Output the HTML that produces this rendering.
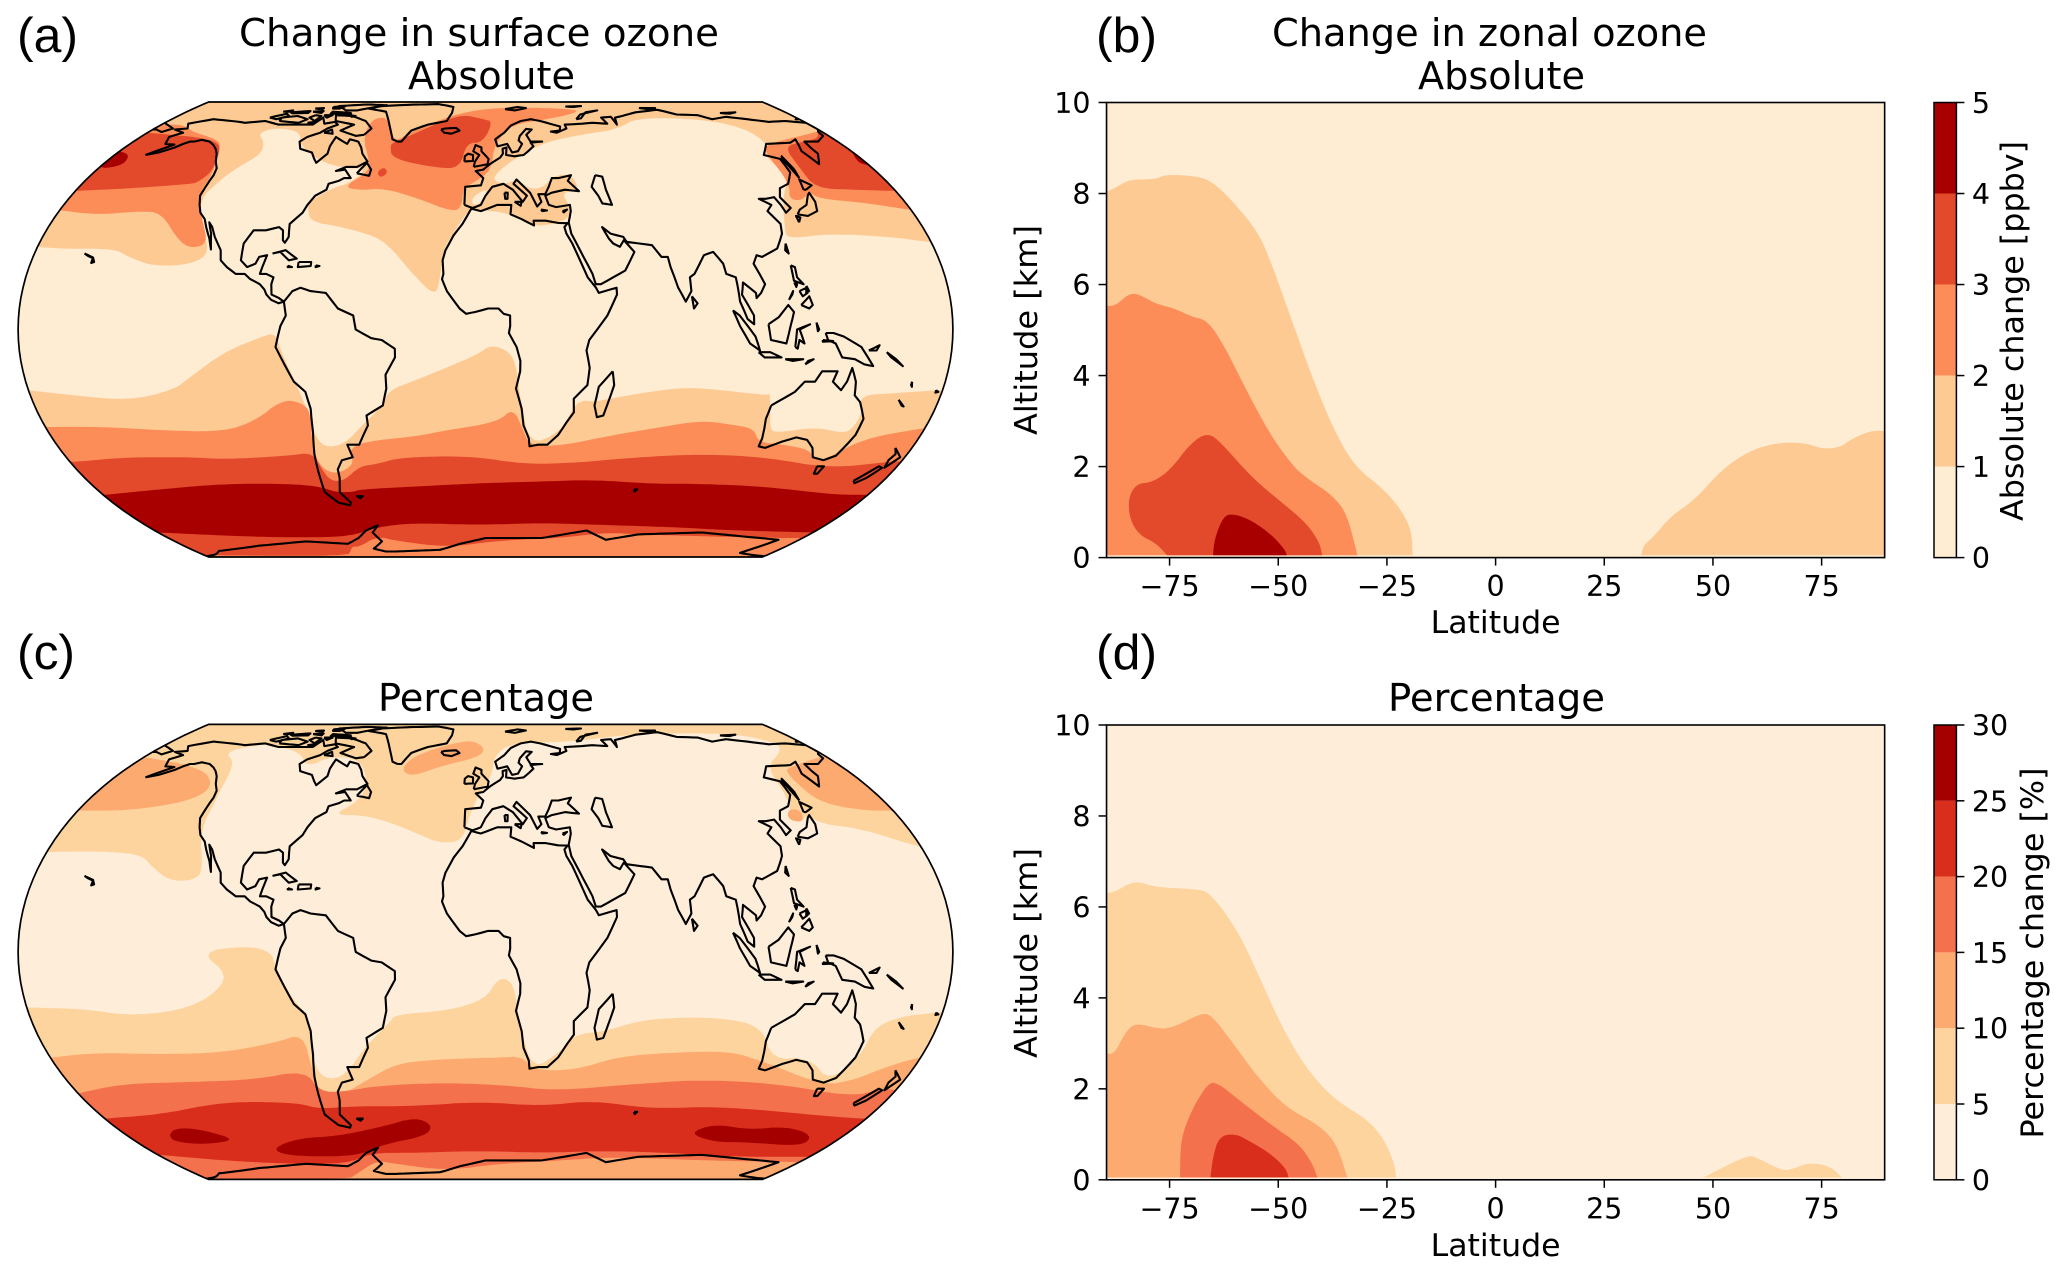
<!DOCTYPE html>
<html lang="en">
<head>
<meta charset="utf-8">
<title>Change in surface and zonal ozone</title>
<style>
html,body{margin:0;padding:0;background:#fff;}
svg{display:block;}
text{font-family:"DejaVu Sans","Liberation Sans",sans-serif;fill:#000;}
.panel-letter{font-family:"Liberation Sans",sans-serif;font-size:49px;}
.title{font-size:38px;}
.axis-label{font-size:31px;}
</style>
</head>
<body>
<svg xmlns="http://www.w3.org/2000/svg" width="2067" height="1275" viewBox="0 0 2067 1275">
<defs>
<clipPath id="clip-map-a"><path id="clip-path-a" d=""/></clipPath>
<clipPath id="clip-map-c"><path id="clip-path-c" d=""/></clipPath>
<clipPath id="clip-zonal-b"><rect x="1107" y="102" width="778" height="455.6"/></clipPath>
<clipPath id="clip-zonal-d"><rect x="1107" y="725" width="778" height="454.8"/></clipPath>
</defs>
<rect width="2067" height="1275" fill="#fff"/>

<text class="panel-letter" x="17" y="52" textLength="61" lengthAdjust="spacingAndGlyphs">(a)</text>
<text class="panel-letter" x="1096" y="52" textLength="61" lengthAdjust="spacingAndGlyphs">(b)</text>
<text class="panel-letter" x="17" y="669" textLength="58" lengthAdjust="spacingAndGlyphs">(c)</text>
<text class="panel-letter" x="1096" y="669" textLength="61" lengthAdjust="spacingAndGlyphs">(d)</text>

<text class="title" x="239" y="46" textLength="480" lengthAdjust="spacingAndGlyphs">Change in surface ozone</text>
<text class="title" x="408" y="89" textLength="167" lengthAdjust="spacingAndGlyphs">Absolute</text>
<text class="title" x="1272" y="46" textLength="435" lengthAdjust="spacingAndGlyphs">Change in zonal ozone</text>
<text class="title" x="1418" y="89" textLength="167" lengthAdjust="spacingAndGlyphs">Absolute</text>
<text class="title" x="378" y="711" textLength="216" lengthAdjust="spacingAndGlyphs">Percentage</text>
<text class="title" x="1388" y="711" textLength="217" lengthAdjust="spacingAndGlyphs">Percentage</text>

<g id="map-a" clip-path="url(#clip-map-a)"></g>
<g id="map-c" clip-path="url(#clip-map-c)"></g>
<g id="map-frames"></g>

<g id="zonal-b"></g>
<g id="zonal-d"></g>

<text class="axis-label" x="1495.6" y="633" text-anchor="middle" textLength="130" lengthAdjust="spacingAndGlyphs">Latitude</text>
<text class="axis-label" x="1495.6" y="1256" text-anchor="middle" textLength="130" lengthAdjust="spacingAndGlyphs">Latitude</text>
<text class="axis-label" transform="translate(1037,330) rotate(-90)" text-anchor="middle" textLength="210" lengthAdjust="spacingAndGlyphs">Altitude [km]</text>
<text class="axis-label" transform="translate(1037,953) rotate(-90)" text-anchor="middle" textLength="210" lengthAdjust="spacingAndGlyphs">Altitude [km]</text>
<text class="axis-label" transform="translate(2023,331) rotate(-90)" text-anchor="middle" textLength="380" lengthAdjust="spacingAndGlyphs">Absolute change [ppbv]</text>
<text class="axis-label" transform="translate(2043,953) rotate(-90)" text-anchor="middle" textLength="371" lengthAdjust="spacingAndGlyphs">Percentage change [%]</text>
</svg>

<script>
// ---------- colour levels ----------
const absColors = ['#feecd3', '#fdca94', '#fc8d59', '#e34a2c', '#a80000'];
const pctColors = ['#feedd8', '#fdd49e', '#fdaa71', '#f4714e', '#d92e1b', '#a40000'];
const absColorbarTicks = [0, 1, 2, 3, 4, 5];
const pctColorbarTicks = [0, 5, 10, 15, 20, 25, 30];
const latitudeTicks = [-75, -50, -25, 0, 25, 50, 75];
const altitudeTicks = [0, 2, 4, 6, 8, 10];

// ---------- coastlines [lon, lat] ----------
const coastNorthAmerica = [[-165,54.5],[-160,55.5],[-155,57.5],[-153,59],[-151,60],[-149,60],[-146,60.7],[-141,60],[-137,58.5],[-134,57],[-131,55],[-128,52],[-125,49.5],[-124,47],[-124,43],[-124,40],[-122,37],[-120,34.5],[-117,32.5],[-115,30],[-112,26.5],[-110,23.2],[-112,28],[-114.5,31.5],[-112.5,30],[-110,27],[-106,23],[-105,20],[-102,18],[-98,16],[-94.5,16],[-92,14.5],[-88,13],[-86,11.5],[-85,10],[-83,8.5],[-80,7.5],[-78,8],[-80,9],[-83,10],[-83.5,13],[-83,15],[-86,16],[-88.5,16],[-88,18],[-87,21.5],[-90,21],[-91,19],[-94,18],[-97,20],[-97.5,25],[-95,29],[-90,29],[-85,30],[-83,29],[-82,26],[-81,25.2],[-80,27],[-81,31],[-77,34.5],[-76,37],[-74,40],[-70,42],[-70,44],[-66,45],[-64,46],[-61,46],[-65,49],[-69,48.5],[-65,50],[-60,50],[-56,52],[-60,55],[-62,57.5],[-65,60],[-70,61],[-70,59],[-78,62],[-78,58],[-77,55],[-80,51.5],[-82,53],[-85,55.5],[-92,57],[-95,60],[-93,62],[-88,64],[-86,66],[-82,68],[-85,69.5],[-90,68.5],[-94,72],[-96,68],[-108,68],[-115,68],[-125,70],[-135,69],[-141,69.7],[-150,70.5],[-156,71],[-166,68.5],[-162,66],[-168,65.5],[-161,64],[-165,62],[-162,59],[-157,58.7],[-165,54.5]];
const coastSouthAmerica = [[-78,8],[-77,4],[-79,1],[-80,-2],[-81,-5],[-78,-10],[-75,-15],[-71,-18],[-70,-23],[-71,-30],[-73,-37],[-74,-43],[-75,-50],[-71,-54],[-66,-55],[-65,-54],[-68,-50],[-65.5,-45],[-65,-42],[-62,-39],[-57,-38],[-58,-34],[-53,-34],[-48,-28],[-48,-25],[-41,-22],[-39,-17],[-39,-13],[-35,-8],[-35,-5.5],[-40,-3],[-44,-2.5],[-50,0],[-51,4],[-57,6],[-62,10.5],[-68,11],[-72,12],[-75,11],[-78,8]];
const coastAfrica = [[-6,35.8],[-9.5,31],[-13,27.5],[-16,23],[-17,20],[-16.5,16],[-17,14.5],[-15,11],[-13,9],[-10,6],[-7.5,4.5],[-4,5],[1,6],[5,6],[7,4.5],[9.5,4],[9.5,1],[9,-1],[12,-5],[13.5,-9],[13.5,-12],[12,-17],[14.5,-23],[15.5,-28],[18,-32],[18.5,-34.5],[22,-34],[26,-34],[30,-31],[33,-27],[35.5,-24],[35,-20],[40,-16],[40.5,-11],[39,-6],[40,-3],[43,0],[47,4],[51,10],[51,12],[44,10.5],[43,12],[40,15],[37,21],[35,25],[33,28],[32.5,30],[34,31.2],[30,31.3],[25,32],[20,32],[20,30.5],[15,32.5],[10.5,34],[11,37],[5,37],[-2,35],[-6,35.8]];
const coastEurasia = [[-9,37],[-9,43],[-2,43.5],[-1,46],[-4.5,48.5],[-1,49],[2,51],[4,52],[7,53.5],[8.5,55],[8.5,57],[10.5,57.5],[10,54.5],[14,54],[18.5,54.5],[21,56],[24,58],[23,59.5],[29,60],[23,60],[21.5,63],[25,65.5],[22,65.8],[18,62.5],[17,60.5],[18.5,59],[16,56],[13,55.5],[11,59],[6,58],[5,61],[10,64],[14,67.5],[20,70],[26,71],[31,70],[41,67],[40,65],[35,64.5],[38,64],[44,66],[44,68],[54,68.5],[60,69],[68,68.5],[67,72],[73,72.5],[73,68],[75,72],[80,73],[90,75.5],[105,77.5],[113,74],[125,73.5],[130,71],[140,72.5],[150,71],[160,69.5],[170,70],[180,69],[180,65.5],[178,64.5],[177,62.5],[170,60],[163,60],[162,57],[162,55],[157,51],[155.5,56],[160,61],[155,59.5],[142,59],[135,54.5],[141,53],[140,48],[135,44],[130,42.5],[127.5,39.5],[129.5,36],[126.5,34.5],[126,37],[125,39.5],[121,39],[118,39],[122,37],[119,35],[122,31],[121,28],[117,23.5],[110,21],[108,21.5],[106,19],[109,13],[107,10.5],[105,9],[105,10.5],[100.5,13.5],[99.5,10],[103.5,4],[103.5,1.5],[101,3],[98.5,8],[98,15],[94.5,16],[94,19],[91,22.5],[87,21.5],[82,16],[80,15],[80,11],[77.5,8],[75,12],[73,18],[72.5,21],[70,21],[67,24.5],[62,25],[57,25.5],[56,27],[51,28],[48,30],[50,26.5],[51.5,25],[54,24],[56,26],[59.5,22.5],[55,17],[45,13],[43,13],[42,16],[39,21],[35,28],[34.5,31.5],[36,35],[36,37],[30,36.3],[27,37],[26,40],[29,41],[35,42],[41,41.5],[37,45],[39,47],[33,46],[30,46],[28,43],[26,40.5],[23,40.5],[24,38],[22,36.5],[19.5,41],[14,45.5],[12.5,44],[18,40],[16,38],[12,42],[8,44],[3,43],[0,40],[-2,37],[-5.5,36],[-9,37]];
const coastChukotkaEast = [[-180,68.9],[-175,67.5],[-170,66],[-173,64.3],[-178,65.5],[-180,65.5]];
const coastAustralia = [[114,-22],[113.5,-26],[115,-32],[115,-34.5],[118,-35],[124,-33],[129,-31.7],[134,-32.5],[138,-35],[140.5,-38],[146,-39],[150,-37.5],[153,-31],[153,-26],[149,-21],[146,-19],[145,-15],[142.5,-11],[141.5,-15],[140,-17.5],[136,-15],[137,-12],[131,-12],[129,-15],[125,-15],[122,-18],[118,-20],[114,-22]];
const coastAntarctica = [[-180,-86],[-172,-83],[-165,-79],[-135,-74.8],[-104,-72],[-81,-73.5],[-72,-70],[-65,-66],[-57,-63.5],[-62,-67],[-60,-72],[-68,-77],[-62,-79.5],[-56,-79.5],[-28,-78],[-15,-73.5],[0,-70],[32,-70],[55,-66],[69,-71],[85,-68],[119,-67],[168,-71],[162,-78],[160,-81],[172,-84],[180,-86]];
const coastIslands = [
  [[50,47],[53,46.5],[53,42],[54,37],[50,37.5],[49,40],[47,43],[50,47]],
  [[-5.5,50],[1,51],[1.5,53],[-2,56],[-2,57.5],[-5,58.5],[-6,56],[-3,54.5],[-5,52],[-5.5,50]],
  [[-10,52],[-6,52.2],[-6,54.5],[-8.5,55],[-10,54],[-10,52]],
  [[-24,65.5],[-22,64],[-18,63.5],[-14,65],[-16,66.3],[-22,66],[-24,65.5]],
  [[-45,60],[-43,60],[-40,65],[-32,68],[-22,70],[-20,75],[-20,80],[-30,83.5],[-50,82.5],[-65,81],[-72,78.5],[-60,76],[-55,70],[-51,65],[-48,61],[-45,60]],
  [[-64,63],[-68,62.5],[-78,65],[-73,68],[-85,70],[-88,73.5],[-78,73],[-68,70],[-62,66],[-64,63]],
  [[-117,70],[-105,69],[-102,71],[-110,73],[-118,72],[-117,70]],
  [[-62,82],[-75,83],[-92,81],[-85,77],[-78,77],[-72,79],[-62,82]],
  [[-125,72],[-118,74.5],[-115,73],[-120,71],[-125,72]],
  [[-80,75],[-92,76],[-92,74.5],[-80,74.5],[-80,75]],
  [[-117,75.5],[-106,76.5],[-106,75],[-115,74.8],[-117,75.5]],
  [[-100,73.5],[-96,73],[-97,70],[-102,72],[-100,73.5]],
  [[-86,64],[-81,63.5],[-83,65.5],[-86,64]],
  [[-95,73.5],[-90,73.5],[-92,72],[-95,73.5]],
  [[-104,76],[-98,76.5],[-98,75],[-104,76]],
  [[-95,80],[-88,81],[-90,78.5],[-94,78.5],[-95,80]],
  [[-105,78.5],[-100,79],[-100,78],[-105,78.5]],
  [[-122,76],[-117,77],[-116,76],[-122,76]],
  [[-100,69],[-96,69.5],[-96,68.5],[-100,69]],
  [[-80,73.5],[-76,73],[-78,72.5],[-80,73.5]],
  [[-59,47.7],[-53,46.8],[-53,49],[-56,51.5],[-59,47.7]],
  [[-85,22],[-80,23],[-75,20.5],[-78,20],[-82,22.5],[-85,22]],
  [[-74,19.5],[-69,19.5],[-69,18.3],[-74,18],[-74,19.5]],
  [[-67,18.5],[-65.5,18.3],[-67,18],[-67,18.5]],
  [[-78,18.4],[-76.3,18],[-78,18],[-78,18.4]],
  [[-160,22],[-158,21.4],[-156,20.8],[-155,19.5],[-156,19.2],[-156,20.6],[-158,21.2],[-160,22]],
  [[49.5,-12],[50.5,-16],[47.5,-25],[45,-25.5],[43.5,-22],[44.5,-16.5],[49.5,-12]],
  [[80,9.5],[82,7.5],[80.5,6],[80,9.5]],
  [[131,34],[135,33.5],[140,35],[141.5,38],[141.5,41],[140,40],[137,37],[133,35.5],[131,34]],
  [[140,42],[141.5,45.5],[145,43.5],[141,42],[140,42]],
  [[130,31.5],[131.5,33],[130,33.5],[130,31.5]],
  [[142,46],[143,49],[143,54],[142,53],[142,46]],
  [[121,25],[120,23],[121,22],[121,25]],
  [[120.5,18.5],[122,18],[122,15],[124,13],[120.5,14],[120.5,18.5]],
  [[122,7],[125.5,9.5],[126.5,7],[125,6],[122,7]],
  [[117.5,8.5],[119.5,11],[119,10],[117.5,8.5]],
  [[122,11],[125,12],[125,10.5],[123,9.5],[122,11]],
  [[125,12.5],[125.7,11],[124.5,10.5],[125,12.5]],
  [[120.5,13.5],[121.5,13],[121,12.2],[120.5,13.5]],
  [[109,1.5],[113,3.5],[117,7],[119,5],[117.5,1],[116,-4],[110,-3],[109,1.5]],
  [[95.5,5.5],[98,4],[104,-2],[106,-6],[102,-4],[98,1],[95.5,5.5]],
  [[105.5,-6.5],[110,-6.5],[114.5,-8],[108,-8],[105.5,-6.5]],
  [[119.5,-5],[120,0],[125,1.5],[121,0],[123,-4],[121,-3],[120.5,-5.5],[119.5,-5]],
  [[127.5,2],[128.5,0],[128,-0.5],[127.5,2]],
  [[130,-3],[134,-3.3],[130,-3.5],[130,-3]],
  [[116,-8.5],[119,-8.5],[123,-8.5],[119,-9],[116,-8.5]],
  [[124,-10],[127,-8.5],[125,-9],[124,-10]],
  [[131,-1],[134,-1],[138,-2],[145,-5],[148,-8],[150.5,-10.5],[147,-10],[143,-8.5],[138,-8],[135,-4],[132,-3],[131,-1]],
  [[148,-6],[152,-4.5],[151,-6],[148,-6]],
  [[155,-6.5],[157,-8],[160,-9.5],[162,-10.5],[159,-8.5],[155,-6.5]],
  [[145,-41],[148,-41],[147.5,-43.5],[146,-43.5],[145,-41]],
  [[166.5,-46],[172,-41],[174,-41.5],[171,-45],[168,-46.8],[166.5,-46]],
  [[173,-35],[178,-38],[175,-41.5],[174,-39],[175,-37],[173,-35]],
  [[164,-20.3],[167,-22.3],[166,-22],[164,-20.3]],
  [[167,-15],[167.5,-16.5],[167,-16],[167,-15]],
  [[177.5,-17.5],[178.6,-18],[177.5,-18.2],[177.5,-17.5]],
  [[68.8,-49],[70.3,-49],[69.5,-49.8],[68.8,-49]],
  [[-61,-51.5],[-58,-51.5],[-59.5,-52.3],[-61,-51.5]],
  [[12,78],[20,80],[25,79],[18,77],[12,78]],
  [[52,71],[56,74],[68,77],[60,75.5],[55,71.5],[52,71]],
  [[50,80.5],[60,81],[55,80],[50,80.5]],
  [[95,79],[105,79],[100,78],[95,79]],
  [[140,75],[150,75.5],[145,74.5],[140,75]],
  [[178,71.3],[180,71],[178,70.9],[178,71.3]],
  [[8.3,41],[9.7,41],[9.5,39],[8.5,39],[8.3,41]],
  [[12.5,38],[15.5,38],[15,36.7],[12.5,38]],
  [[23.5,35.5],[26,35.2],[24,35],[23.5,35.5]],
  [[32.5,35],[34.5,35.5],[33,34.6],[32.5,35]]
];

// ---------- surface ozone, absolute change: filled regions [lon, lat] ----------
const surfaceAbsLevel1 = [
  [[-180,-17.5],[-166.5,-18.7],[-142,-20.6],[-123,-17.5],[-115,-13.6],[-101,-6.5],[-86,-2],[-81,-1],[-79,-6],[-75,-14],[-71,-24],[-71,-30],[-68,-35],[-59,-33.8],[-50,-27.8],[-41,-22],[-38,-17.5],[-27.7,-14.7],[-15,-10.9],[-2.7,-7],[2.2,-4.3],[9.6,-6.5],[12,-10.9],[13.7,-19.8],[18.5,-34.3],[31,-30],[35.4,-22],[39,-20.4],[42.8,-21],[50.4,-19.8],[72.6,-17],[85,-16.8],[111,-19],[112.3,-18.4],[113.5,-22],[116.5,-29],[120,-30.3],[135,-28.5],[148,-30.5],[150.6,-28.5],[151.4,-24],[148,-19],[161,-18.4],[178,-17.5],[180,-17.5],[180,-90],[-180,-90]],
  [[-180,24],[-169,23.4],[-148.6,23.4],[-142,21],[-131,18.2],[-116,18.8],[-110,22.3],[-117,30.3],[-123,39],[-120,44.2],[-116,49.5],[-109,54.7],[-113,60],[-120.6,63.6],[-115,66.5],[-99,64.5],[-93.4,58.5],[-79,52.2],[-65.4,49.5],[-55,49.5],[-60,44.5],[-67.6,42.5],[-76,38],[-75,35.4],[-72.6,31.7],[-58.7,30],[-44,27],[-37,23],[-29.8,17],[-19.6,9.4],[-17.8,14.2],[-17,23],[-13.2,28],[-7.8,34.7],[-5.3,35.5],[10,34.5],[19,30.2],[29,31],[35,33],[36,36.5],[33,41],[41.5,42],[39,47.4],[30.6,46.7],[26,43],[20,42],[14,45.5],[9,44],[5,44.5],[3.4,46.5],[11.6,52],[29,59.5],[50,63],[71,65.5],[88,72],[124,71],[140.6,66.5],[143,59],[135,55.2],[137,46],[128,39],[122.5,29],[123,26.4],[140,28],[165,27],[177.6,25.6],[180,25.5],[180,90],[-180,90]],
  [[-5.3,36.5],[-6,39.3],[-1.7,41.5],[0.7,42],[0.2,38.7]]
];
const surfaceAbsLevel2 = [
  [[-180,-28.5],[-157,-28.4],[-134,-29.5],[-108,-30],[-93,-26.5],[-81,-20.4],[-73.6,-21],[-70,-24],[-73,-35],[-72,-41.7],[-66,-43.7],[-57,-40.3],[-58,-35.7],[-50.7,-33],[-29,-31.4],[-16,-29.5],[5,-27],[11,-22.7],[15.5,-29.5],[18.5,-34.3],[32,-34.3],[50,-31.4],[68,-29],[87.5,-26.5],[101,-27.8],[110,-29],[114,-33.2],[125,-34],[137,-35.5],[142,-39],[147,-38.5],[156.7,-32.2],[178,-29],[180,-29],[180,-90],[-180,-90]],
  [[-180,35.3],[-163,33.8],[-146,35],[-136,34.4],[-124,25.8],[-118,23.5],[-112,25],[-117,31.5],[-125,40],[-124.6,48],[-133,58.5],[-139,61],[-157,64.5],[-168,68],[-180,68]],
  [[-57.6,72.5],[-65,71],[-63.7,62],[-55,52],[-54,48],[-63,43],[-55,41.8],[-45,42.5],[-29.8,39.3],[-13.7,34.7],[-10,36.5],[-9.9,42.5],[-1.7,46],[2.7,49.5],[4.5,58.5],[13.9,68],[36,71],[54,75],[56,78],[15.5,80],[-13.5,76],[-41.5,63.5],[-45.4,60],[-51,64.5]],
  [[180,65],[172.5,63.6],[141,58.8],[136.5,54.7],[135.4,43.7],[131,39],[136,38.3],[141.5,41.3],[144.4,39],[161.4,37.8],[178,35.6],[180,35.5]]
];
const surfaceAbsLevel3 = [
  [[-180,-39.5],[-175.5,-39.4],[-153.6,-38],[-126,-38],[-113,-38.7],[-85,-37.6],[-73.5,-36.4],[-72,-42],[-70,-46],[-64,-46],[-55,-41],[-47.5,-40.3],[-36,-38],[-6,-37.6],[16.4,-40.3],[38.5,-39.9],[65.5,-38],[92.5,-37],[120,-38],[151,-41.7],[176,-39.4],[180,-39.4],[180,-70],[166,-70],[121.5,-69],[85,-68],[66,-67],[43,-70],[7,-71.5],[-23,-76],[-52,-71.5],[-61,-69],[-77,-76],[-80,-75],[-90,-86],[-180,-84]],
  [[-47.8,58],[-44.5,53],[-22.6,49.6],[-11.8,49.6],[-9.6,59.5],[-1.2,59.5],[4.2,69.7],[-1.4,71],[-13.3,74],[-27,68.5],[-41,62],[-47,59.5]],
  [[-50,48],[-47.4,50],[-44.8,48],[-47.4,46]],
  [[-180,41.6],[-157.5,42.4],[-131,44],[-129,44.5],[-126,48],[-128.6,53.5],[-134,59],[-146,61.5],[-165,63],[-180,64]],
  [[149,57.8],[146,49.5],[145.7,42.5],[162,42],[179,41.6],[180,41.6],[180,66],[173,61.5],[162.7,60]]
];
const surfaceAbsLevel4 = [
  [[-180,-51],[-178.5,-51],[-151,-49],[-119,-47],[-90,-47],[-76,-48],[-70,-50],[-62,-50],[-58,-49],[-32.5,-48],[-3,-46.8],[26,-46.2],[48.7,-45.6],[75,-47],[98,-47],[128.6,-48],[164.4,-51],[180,-51],[180,-67],[135,-66],[98.6,-64.3],[63.5,-63.4],[29.5,-62.4],[-3.7,-63.4],[-37,-62.4],[-58,-64.3],[-75.6,-69],[-102,-69.8],[-140,-69],[-179,-67],[-180,-67]],
  [[-180,50],[-180,56],[-173,54.7],[-170,51],[-176,49.5]],
  [[180,56],[176,51.5],[180,50.5]]
];

// ---------- surface ozone, percentage change: filled regions [lon, lat] ----------
const surfacePctLevel1 = [
  [[-180,-16],[-158,-16.4],[-141,-18.4],[-121,-17],[-107,-13],[-99,-6.5],[-110,0],[-92,1.8],[-82.5,0],[-81,-4.3],[-75,-14],[-69.5,-18.7],[-72,-32.5],[-69,-38],[-60,-37],[-48,-27],[-38,-20.4],[-35.5,-18],[-15,-17],[0,-13.6],[4.7,-7.6],[9.6,-8],[12,-13],[13.7,-22],[20,-35],[31,-29],[35.7,-24],[48,-23],[60.5,-20],[73,-19],[93,-19],[110,-21.5],[118.5,-31.6],[134,-31],[148,-38.8],[154.7,-30],[155,-22],[163.5,-18.7],[177,-17.5],[180,-17.4],[180,-90],[-180,-90]],
  [[-180,29.2],[-160,29.5],[-141,28.6],[-134,24.6],[-125.6,20.6],[-116.6,20.6],[-113,23.4],[-121,36.6],[-121.7,46],[-127.5,60],[-141,65.5],[-129,69],[-123,69.6],[-100,65.5],[-90,58.5],[-81.7,63.6],[-65,62],[-55.5,52],[-57.7,45.5],[-67,41],[-53,41],[-38.6,38],[-27,34.4],[-19,32],[-9.6,32.6],[-7,41],[-3,48],[3,55],[4.7,63.6],[14,70],[51,71],[92.5,76.5],[150.5,76.5],[166,70],[159.6,65.5],[141,58.5],[137,46],[133.6,41],[131.6,39],[137,39.2],[140,41],[145,38],[159.6,36.6],[176.6,31.5],[180,31],[180,90],[-180,90]]
];
const surfacePctLevel2 = [
  [[-180,-31],[-160,-29.5],[-134,-30],[-108,-29.5],[-85.5,-26.5],[-73,-23.6],[-73,-35],[-72.7,-43.3],[-62,-42.5],[-49.4,-37.6],[-37.4,-33],[-21.4,-31.6],[5,-31],[15.5,-30.7],[20,-35],[37.5,-35],[55,-30.7],[75.7,-29.5],[99,-29],[113,-31.6],[146.5,-40],[158.6,-38],[168,-34],[176.6,-31.6],[180,-31],[180,-90],[-180,-90]],
  [[-180,42.5],[-157.5,42.5],[-135,45.5],[-128,50],[-135.8,55.8],[-149,59],[-162,61],[-180,63]],
  [[180,42.5],[168,42.5],[154,44.5],[148.6,48],[148,56.8],[154.7,59],[176,63],[180,63.5]],
  [[131,39.5],[137,38.5],[139.5,42.8],[134,43]],
  [[-42.4,57.8],[-36,54.7],[-23,59],[-3.7,63],[0,67.3],[-7.8,72],[-22,69],[-37.6,63.6]]
];
const surfacePctLevel3 = [
  [[-180,-42.6],[-157.6,-39.4],[-127,-38.8],[-99,-38],[-76,-35],[-73,-42],[-62,-42],[-47,-40],[-17,-39],[11,-40],[30.5,-41.7],[66,-39.4],[93,-38],[126.7,-39.4],[162.5,-43.7],[174,-41],[180,-41.5],[180,-71],[122.7,-70],[70.6,-68],[43,-70],[7,-72],[-23.6,-76.5],[-52,-72],[-62,-70],[-80,-79],[-90,-87],[-180,-85]]
];
const surfacePctLevel4 = [
  [[-180,-51.5],[-152,-50],[-122,-46],[-104,-45.4],[-84,-46],[-76.5,-48],[-60,-47],[-32,-47],[-3,-45.4],[26,-47],[48,-45],[76,-48],[107,-47],[161.7,-50.7],[178,-51.5],[180,-51.5],[180,-68],[138,-68],[100,-66],[65,-65],[31,-66],[-4,-65],[-38.5,-66],[-63,-66],[-80,-72],[-115,-72],[-149,-70],[-179,-67],[-180,-67]]
];
const surfacePctLevel5 = [
  [[-159,-58],[-150.5,-55],[-139,-55.8],[-127,-60],[-146,-62],[-160,-61]],
  [[-112,-63.4],[-94.6,-59.3],[-74.4,-58.4],[-50,-54.6],[-33,-51],[-25.5,-54],[-30,-58.4],[-53.5,-62],[-70.5,-67.5],[-99,-67.9],[-112,-66.5]],
  [[101,-57.3],[110,-53.5],[129,-55.8],[146,-54.5],[164,-58],[166.5,-62.9],[135,-61],[118.5,-61]]
];

// ---------- zonal ozone, absolute change: filled regions [latitude, altitude km] ----------
const zonalAbsLevel1 = [
  [[-89.5,0.05],[-89.5,8.04],[-87.4,8.13],[-84.2,8.31],[-78.3,8.31],[-75.9,8.42],[-68.6,8.38],[-65.4,8.27],[-60.7,7.86],[-54.5,7.14],[-51.4,6.42],[-46.7,5.17],[-42,3.91],[-37.3,2.83],[-32.6,2.02],[-25.5,1.48],[-21.6,1.03],[-19.3,0.58],[-19.1,0.05]],
  [[33.5,0.05],[34,0.27],[36.3,0.45],[40.2,0.9],[45.7,1.26],[52,1.93],[58.2,2.34],[64.5,2.52],[70.8,2.53],[75.5,2.38],[79.4,2.43],[81.7,2.6],[86.4,2.79],[89.5,2.78],[89.5,0.05]]
];
const zonalAbsLevel2 = [
  [[-89.5,0.05],[-89.5,5.53],[-87.4,5.54],[-84.2,5.81],[-81.9,5.78],[-78,5.57],[-74,5.48],[-70.1,5.3],[-66.2,5.21],[-62.3,4.63],[-57.6,3.73],[-52.1,2.74],[-46.7,2.02],[-43.5,1.75],[-37.3,1.35],[-34.1,0.94],[-31.8,0.05]]
];
const zonalAbsLevel3 = [
  [[-75.6,0.05],[-78,0.31],[-81.9,0.49],[-84.2,0.85],[-84.5,1.3],[-82.7,1.62],[-78.8,1.66],[-74.8,1.93],[-70.1,2.52],[-66.2,2.75],[-63.1,2.52],[-56,1.75],[-49.8,1.26],[-43.5,0.76],[-40.4,0.31],[-39.9,0.05]]
];
const zonalAbsLevel4 = [
  [[-65,0.05],[-64.7,0.4],[-62.6,0.92],[-60,0.96],[-56,0.81],[-51.4,0.49],[-48.5,0.18],[-48,0.05]]
];

// ---------- zonal ozone, percentage change: filled regions [latitude, altitude km] ----------
const zonalPctLevel1 = [
  [[-89.5,0.05],[-89.5,6.3],[-87.4,6.34],[-84.2,6.52],[-81.9,6.55],[-78,6.43],[-68.6,6.39],[-66.2,6.33],[-62.3,5.89],[-58.4,5.3],[-54.5,4.49],[-49.8,3.49],[-45.1,2.68],[-40.4,2.09],[-35.7,1.68],[-29.4,1.32],[-25.5,0.87],[-23.2,0.33],[-22.9,0.05]],
  [[47.8,0.05],[58.2,0.56],[60.6,0.46],[66,0.2],[68.4,0.24],[72.3,0.38],[77,0.3],[79.7,0.05]]
];
const zonalPctLevel2 = [
  [[-89.5,0.05],[-89.5,2.77],[-87.7,2.77],[-85,3.27],[-82.7,3.45],[-77.2,3.31],[-74,3.36],[-67.8,3.66],[-65.4,3.63],[-60.7,3.04],[-54.5,2.23],[-48.2,1.59],[-40.4,1.19],[-36.5,0.78],[-34.1,0.05]]
];
const zonalPctLevel3 = [
  [[-72.6,0.05],[-72.5,0.87],[-70.1,1.5],[-66.2,2.13],[-63.9,2.13],[-59.2,1.77],[-51.4,1.19],[-45.1,0.78],[-42,0.33],[-41,0.05]]
];
const zonalPctLevel4 = [
  [[-65.6,0.05],[-65,0.51],[-63.6,0.95],[-60,1.02],[-56,0.82],[-51.4,0.55],[-48.2,0.24],[-47.6,0.05]]
];

// ---------- Equal Earth map projection ----------
const SVG_NS = 'http://www.w3.org/2000/svg';
const EE = { A1: 1.340264, A2: -0.081106, A3: 0.000893, A4: 0.003796 };
const MAP_SCALE = 172.7;
function equalEarth(lon, lat, cx, cy) {
  const lam = lon * Math.PI / 180;
  const th = Math.asin(Math.sqrt(3) / 2 * Math.sin(lat * Math.PI / 180));
  const t2 = th * th, t6 = t2 * t2 * t2, t8 = t6 * t2;
  const denom = 9 * EE.A4 * t8 + 7 * EE.A3 * t6 + 3 * EE.A2 * t2 + EE.A1;
  const x = 2 * Math.sqrt(3) * lam * Math.cos(th) / (3 * denom);
  const y = th * (EE.A4 * t8 + EE.A3 * t6 + EE.A2 * t2 + EE.A1);
  return [cx + MAP_SCALE * x, cy - MAP_SCALE * y];
}
function geoPath(points, cx, cy, closed) {
  let d = '';
  for (let i = 0; i < points.length; i++) {
    const p = points[i];
    if (i === 0) {
      const s = equalEarth(p[0], p[1], cx, cy);
      d += 'M' + s[0].toFixed(1) + ' ' + s[1].toFixed(1);
      continue;
    }
    const q = points[i - 1];
    const n = Math.max(1, Math.ceil(Math.max(Math.abs(p[0] - q[0]), Math.abs(p[1] - q[1])) / 3));
    for (let k = 1; k <= n; k++) {
      const lon = q[0] + (p[0] - q[0]) * k / n;
      const lat = q[1] + (p[1] - q[1]) * k / n;
      const s = equalEarth(lon, lat, cx, cy);
      d += 'L' + s[0].toFixed(1) + ' ' + s[1].toFixed(1);
    }
  }
  if (closed) {
    const a = points[points.length - 1], b = points[0];
    const n = Math.max(1, Math.ceil(Math.max(Math.abs(a[0] - b[0]), Math.abs(a[1] - b[1])) / 3));
    for (let k = 1; k < n; k++) {
      const s = equalEarth(a[0] + (b[0] - a[0]) * k / n, a[1] + (b[1] - a[1]) * k / n, cx, cy);
      d += 'L' + s[0].toFixed(1) + ' ' + s[1].toFixed(1);
    }
    d += 'Z';
  }
  return d;
}

// Corner-cutting smoother for contour outlines; vertices on plot boundaries stay put.
function smoothRing(points, isFixed, passes) {
  let pts = points;
  for (let n = 0; n < passes; n++) {
    const out = [];
    for (let i = 0; i < pts.length; i++) {
      const p = pts[i], q = pts[(i + 1) % pts.length];
      if (isFixed(p)) {
        out.push(p);
      } else {
        out.push([0.75 * p[0] + 0.25 * q[0], 0.75 * p[1] + 0.25 * q[1]]);
      }
      if (!isFixed(q)) {
        out.push([0.25 * p[0] + 0.75 * q[0], 0.25 * p[1] + 0.75 * q[1]]);
      }
    }
    pts = out;
  }
  return pts;
}
function mapFixed(p) { return Math.abs(p[0]) >= 180 || Math.abs(p[1]) >= 90; }
function zonalFixed(p) { return p[1] <= 0.05 || Math.abs(p[0]) >= 89.5; }

const OUTLINE = [[-180, -90], [180, -90], [180, 90], [-180, 90]];

function drawMap(groupId, clipId, cx, cy, colors, levels, label) {
  const g = document.getElementById(groupId);
  const outline = geoPath(OUTLINE, cx, cy, true);
  document.getElementById(clipId).setAttribute('d', outline);

  const base = document.createElementNS(SVG_NS, 'path');
  base.setAttribute('d', outline);
  base.setAttribute('fill', colors[0]);
  
  
  g.appendChild(base);

  levels.forEach(function (regions, i) {
    const band = document.createElementNS(SVG_NS, 'path');
    band.setAttribute('d', regions.map(function (r) {
      return geoPath(smoothRing(r, mapFixed, 2), cx, cy, true);
    }).join(''));
    band.setAttribute('fill', colors[i + 1]);
    band.setAttribute('fill-rule', 'evenodd');
    
    
    g.appendChild(band);
  });

  const closedCoasts = [coastNorthAmerica, coastSouthAmerica, coastAfrica, coastEurasia, coastAustralia].concat(coastIslands);
  const coast = document.createElementNS(SVG_NS, 'path');
  coast.setAttribute('d', closedCoasts.map(function (r) { return geoPath(r, cx, cy, false); }).join('') +
    geoPath(coastChukotkaEast, cx, cy, false) + geoPath(coastAntarctica, cx, cy, false));
  coast.setAttribute('fill', 'none');
  coast.setAttribute('stroke', '#000');
  coast.setAttribute('stroke-width', '2.1');
  coast.setAttribute('stroke-linejoin', 'round');
  
  
  g.appendChild(coast);

  const frame = document.createElementNS(SVG_NS, 'path');
  frame.setAttribute('d', outline);
  frame.setAttribute('fill', 'none');
  frame.setAttribute('stroke', '#000');
  frame.setAttribute('stroke-width', '1.7');
  
  
  document.getElementById('map-frames').appendChild(frame);
}

// ---------- zonal plot axes ----------
const LAT_CENTER = 1495.6, LAT_PX = 4.347;
function xScale(lat) { return LAT_CENTER + lat * LAT_PX; }

function svgLine(parent, x1, y1, x2, y2, name) {
  const l = document.createElementNS(SVG_NS, 'line');
  l.setAttribute('x1', x1);
  l.setAttribute('y1', y1);
  l.setAttribute('x2', x2);
  l.setAttribute('y2', y2);
  l.setAttribute('stroke', '#000');
  l.setAttribute('stroke-width', '1.5');
  
  
  parent.appendChild(l);
}
function svgLabel(parent, x, y, anchor, str, name) {
  const t = document.createElementNS(SVG_NS, 'text');
  t.setAttribute('x', x);
  t.setAttribute('y', y);
  t.setAttribute('text-anchor', anchor);
  t.setAttribute('font-size', '28.5');
  t.textContent = str;
  
  
  parent.appendChild(t);
}

function drawZonal(groupId, clipUrl, top, bottom, colors, levels, cbTicks) {
  const g = document.getElementById(groupId);
  const yScale = function (alt) { return bottom - alt * (bottom - top) / 10; };
  const left = xScale(-89.5), right = xScale(89.5);

  const plot = document.createElementNS(SVG_NS, 'g');
  plot.setAttribute('clip-path', clipUrl);
  
  
  g.appendChild(plot);

  const bg = document.createElementNS(SVG_NS, 'rect');
  bg.setAttribute('x', left);
  bg.setAttribute('y', top);
  bg.setAttribute('width', right - left);
  bg.setAttribute('height', bottom - top);
  bg.setAttribute('fill', colors[0]);
  
  
  plot.appendChild(bg);

  levels.forEach(function (regions, i) {
    const band = document.createElementNS(SVG_NS, 'path');
    band.setAttribute('d', regions.map(function (r) {
      return smoothRing(r, zonalFixed, 2).map(function (p, k) {
        return (k === 0 ? 'M' : 'L') + xScale(p[0]).toFixed(1) + ' ' + yScale(p[1]).toFixed(1);
      }).join('') + 'Z';
    }).join(''));
    band.setAttribute('fill', colors[i + 1]);
    
    
    plot.appendChild(band);
  });

  const spine = document.createElementNS(SVG_NS, 'rect');
  spine.setAttribute('x', left);
  spine.setAttribute('y', top);
  spine.setAttribute('width', right - left);
  spine.setAttribute('height', bottom - top);
  spine.setAttribute('fill', 'none');
  spine.setAttribute('stroke', '#000');
  spine.setAttribute('stroke-width', '1.6');
  
  
  g.appendChild(spine);

  latitudeTicks.forEach(function (v) {
    const x = xScale(v);
    svgLine(g, x, bottom, x, bottom + 8, 'x-tick');
    svgLabel(g, x, bottom + 38.5, 'middle', String(v).replace('-', '\u2212'), 'x-tick-label');
  });
  altitudeTicks.forEach(function (v) {
    const y = yScale(v);
    svgLine(g, left - 8, y, left, y, 'y-tick');
    svgLabel(g, left - 16, y + 10.5, 'end', String(v), 'y-tick-label');
  });

  // colour bar
  const cbLeft = 1934, cbRight = 1956.4;
  const maxTick = cbTicks[cbTicks.length - 1];
  const cbScale = function (v) { return bottom - v * (bottom - top) / maxTick; };
  colors.forEach(function (c, i) {
    const r = document.createElementNS(SVG_NS, 'rect');
    r.setAttribute('x', cbLeft);
    r.setAttribute('y', cbScale(cbTicks[i + 1]));
    r.setAttribute('width', cbRight - cbLeft);
    r.setAttribute('height', cbScale(cbTicks[i]) - cbScale(cbTicks[i + 1]));
    r.setAttribute('fill', c);
    
    
    g.appendChild(r);
  });
  const cbFrame = document.createElementNS(SVG_NS, 'rect');
  cbFrame.setAttribute('x', cbLeft);
  cbFrame.setAttribute('y', top);
  cbFrame.setAttribute('width', cbRight - cbLeft);
  cbFrame.setAttribute('height', bottom - top);
  cbFrame.setAttribute('fill', 'none');
  cbFrame.setAttribute('stroke', '#000');
  cbFrame.setAttribute('stroke-width', '1.5');
  
  
  g.appendChild(cbFrame);
  cbTicks.forEach(function (v) {
    const y = cbScale(v);
    svgLine(g, cbRight, y, cbRight + 8, y, 'colorbar-tick');
    svgLabel(g, cbRight + 15.5, y + 10.5, 'start', String(v), 'colorbar-tick-label');
  });
}

drawMap('map-a', 'clip-path-a', 485.5, 329.5, absColors,
  [surfaceAbsLevel1, surfaceAbsLevel2, surfaceAbsLevel3, surfaceAbsLevel4], 'surface-absolute');
drawMap('map-c', 'clip-path-c', 485.5, 951.9, pctColors,
  [surfacePctLevel1, surfacePctLevel2, surfacePctLevel3, surfacePctLevel4, surfacePctLevel5], 'surface-percentage');
drawZonal('zonal-b', 'url(#clip-zonal-b)', 102.5, 557.6, absColors,
  [zonalAbsLevel1, zonalAbsLevel2, zonalAbsLevel3, zonalAbsLevel4], absColorbarTicks);
drawZonal('zonal-d', 'url(#clip-zonal-d)', 725, 1179.8, pctColors,
  [zonalPctLevel1, zonalPctLevel2, zonalPctLevel3, zonalPctLevel4], pctColorbarTicks);
</script>
</body>
</html>
